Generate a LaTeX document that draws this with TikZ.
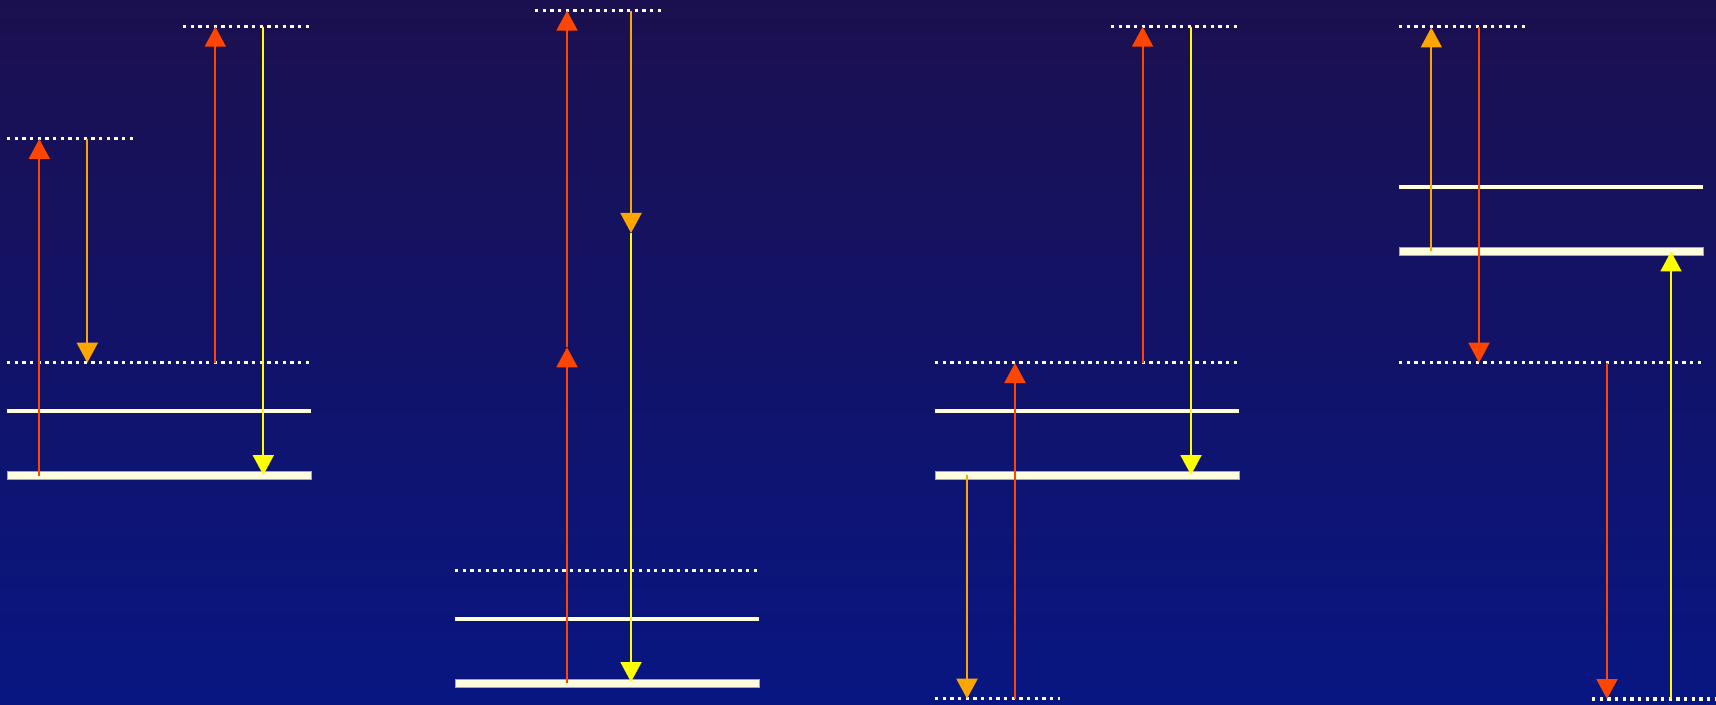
\documentclass[tikz,border=0pt]{standalone}
\usetikzlibrary{arrows.meta}
\definecolor{bgtop}{RGB}{27,16,79}
\definecolor{bgbot}{RGB}{8,22,130}
\definecolor{cream}{RGB}{255,255,221}
\definecolor{redc}{RGB}{255,69,0}
\definecolor{orc}{RGB}{255,165,0}
\definecolor{yelc}{RGB}{255,255,0}
\tikzset{
  virt/.style={draw=cream, line width=1.65pt, dash pattern=on 1.65pt off 2.18pt},
  state/.style={draw=cream, line width=2pt},
  ground/.style={fill=cream, draw=gray!70, line width=0.4pt},
  arr/.style={line width=1pt, -{Triangle[width=10.5pt,length=10pt]}},
  redarr/.style={arr, draw=redc, fill=redc},
  orarr/.style={arr, draw=orc, fill=orc},
  yelarr/.style={arr, draw=yelc, fill=yelc},
}
\begin{document}
\begin{tikzpicture}[x=0.5pt,y=-0.5pt]
\useasboundingbox (0,0) rectangle (1716,705);
\shade[top color=bgtop, bottom color=bgbot] (0,0) rectangle (1716,705);

% ---------- Panel 1 ----------
\draw[virt] (7,138.7) -- (133,138.7);
\draw[virt] (183,26.7) -- (310,26.7);
\draw[virt] (7,362.7) -- (310,362.7);
\draw[state] (7,410.7) -- (311,410.7);
\draw[ground] (7,471.3) rectangle (311,479.3);
\coordinate (a1s) at (39.3,475.5);  \coordinate (a1e) at (39.3,139);
\coordinate (a2s) at (87.3,139);    \coordinate (a2e) at (87.3,362.7);
\coordinate (a3s) at (215.3,362.7); \coordinate (a3e) at (215.3,26.7);
\coordinate (a4s) at (263.3,26.7);  \coordinate (a4e) at (263.3,475);
\draw[redarr] (a1s) -- (a1e);
\draw[orarr]  (a2s) -- (a2e);
\draw[redarr] (a3s) -- (a3e);
\draw[yelarr] (a4s) -- (a4e);

% ---------- Panel 2 ----------
\draw[virt] (535,10.7) -- (662,10.7);
\draw[virt] (455,570.7) -- (758,570.7);
\draw[state] (455,618.7) -- (759,618.7);
\draw[ground] (455,679.3) rectangle (759,687.3);
\coordinate (b1s) at (567,683);   \coordinate (b1m) at (567,347.3); \coordinate (b1e) at (567,10.7);
\coordinate (b2s) at (631,10.7);  \coordinate (b2m) at (631,233);   \coordinate (b2e) at (631,682);
\draw[redarr] (b1m) -- (b1e);
\draw[redarr] (b1s) -- (b1m);
\draw[yelarr] (b2m) -- (b2e);
\draw[orarr]  (b2s) -- (b2m);

% ---------- Panel 3 ----------
\draw[virt] (1111,26.7) -- (1237,26.7);
\draw[virt] (935,362.7) -- (1238,362.7);
\draw[state] (935,410.7) -- (1239,410.7);
\draw[ground] (935,471.3) rectangle (1239,479.3);
\draw[virt] (935,698.7) -- (1060,698.7);
\coordinate (c1s) at (967,474.5);   \coordinate (c1e) at (967,698.7);
\coordinate (c2s) at (1015,698.7);  \coordinate (c2e) at (1015,363);
\coordinate (c3s) at (1142.6,362.7);\coordinate (c3e) at (1142.6,26.7);
\coordinate (c4s) at (1191,26.7);   \coordinate (c4e) at (1191,475);
\draw[orarr]  (c1s) -- (c1e);
\draw[redarr] (c2s) -- (c2e);
\draw[redarr] (c3s) -- (c3e);
\draw[yelarr] (c4s) -- (c4e);

% ---------- Panel 4 ----------
\draw[virt] (1399,26.7) -- (1525,26.7);
\draw[state] (1399,186.7) -- (1703,186.7);
\draw[ground] (1399,247.3) rectangle (1703,255.3);
\draw[virt] (1399,362.7) -- (1703,362.7);
\draw[virt] (1592,699) -- (1716,699);
\coordinate (d1s) at (1431.3,251.5); \coordinate (d1e) at (1431.3,27.5);
\coordinate (d2s) at (1479,26.7);    \coordinate (d2e) at (1479,362.7);
\coordinate (d3s) at (1607,362.7);   \coordinate (d3e) at (1607,699);
\coordinate (d4s) at (1671,699);     \coordinate (d4e) at (1671,251.5);
\draw[orarr]  (d1s) -- (d1e);
\draw[redarr] (d2s) -- (d2e);
\draw[redarr] (d3s) -- (d3e);
\draw[yelarr] (d4s) -- (d4e);
\end{tikzpicture}
\end{document}
